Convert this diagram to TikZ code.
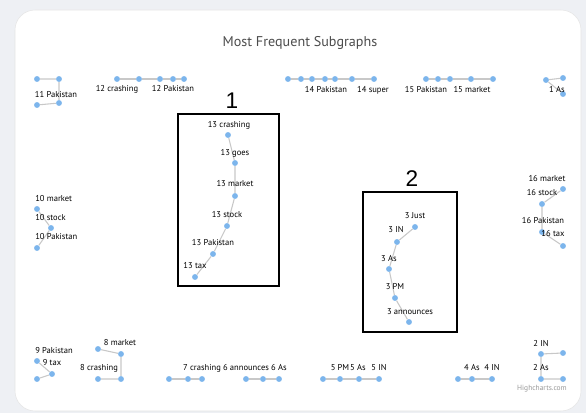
\documentclass[tikz,border=0pt]{standalone}
\usepackage{fontspec}
\setmainfont{PT Sans}
\newfontfamily\digitfont{Liberation Sans}
\usetikzlibrary{shadows}
\definecolor{hcblue}{HTML}{7CB5EC}
\definecolor{hcgray}{HTML}{C8C8C8}
\definecolor{pagegray}{HTML}{EEF0F4}
\begin{document}
\begin{tikzpicture}[x=0.75pt, y=-0.75pt,
  dot/.style={circle, fill=hcblue, inner sep=0pt, minimum size=4.4pt},
  link/.style={draw=hcgray, line width=0.8pt},
  word/.style={inner sep=0pt, font=\fontsize{6.4}{7}\selectfont, text=black},
  title/.style={inner sep=0pt, font=\fontsize{10.6}{12}\selectfont, text=black!70},
  frame/.style={draw=black, line width=1.7pt, fill=white,
    drop shadow={opacity=0.35, shadow xshift=1pt, shadow yshift=-1pt}},
  bignum/.style={inner sep=0pt, font=\digitfont\fontsize{17}{17}\selectfont}
]
\fill[pagegray] (0,0) rectangle (586,413);
\filldraw[fill=white, draw=gray!20, rounded corners=15pt] (15,10) rectangle (581,411);
\node[title] (head) at (300,43) {Most Frequent Subgraphs};

% boxes
\draw[frame] (178,114) rectangle (279,286);
\node[bignum] (one) at (232,101) {1};
\draw[frame] (363,192) rectangle (457,332);
\node[bignum] (two) at (412,179) {2};

% 11
\node[dot] (a11) at (37,79) {};
\node[dot] (b11) at (59,79) {};
\node[dot] (c11) at (59,103) {};
\node[dot] (d11) at (37,105) {};
\draw[link] (a11) -- (b11) -- (c11) -- (d11);
\node[word] (t11) at (56,95) {11 Pakistan};

% 12
\node[dot] (a12) at (117,79) {};
\node[dot] (b12) at (139,79) {};
\node[dot] (c12) at (160,79) {};
\node[dot] (d12) at (173,79) {};
\node[dot] (e12) at (184,79) {};
\draw[link] (a12) -- (b12) -- (c12) -- (d12) -- (e12);
\node[word] (t12a) at (117,89) {12 crashing};
\node[word] (t12b) at (173,89) {12 Pakistan};

% 14
\node[dot] (a14) at (288,79) {};
\node[dot] (b14) at (301,79) {};
\node[dot] (c14) at (312,79) {};
\node[dot] (d14) at (325,79) {};
\node[dot] (e14) at (335,79) {};
\node[dot] (f14) at (352,79) {};
\node[dot] (g14) at (374,79) {};
\draw[link] (a14) -- (b14) -- (c14) -- (d14) -- (e14) -- (f14) -- (g14);
\node[word] (t14a) at (326,90) {14 Pakistan};
\node[word] (t14b) at (373,90) {14 super};

% 15
\node[dot] (a15) at (426,79) {};
\node[dot] (b15) at (438,79) {};
\node[dot] (c15) at (450,79) {};
\node[dot] (d15) at (471,79) {};
\node[dot] (e15) at (493,79) {};
\draw[link] (a15) -- (b15) -- (c15) -- (d15) -- (e15);
\node[word] (t15a) at (426,90) {15 Pakistan};
\node[word] (t15b) at (472,90) {15 market};

% 1
\node[dot] (a1) at (546,80) {};
\node[dot] (b1) at (563,78) {};
\node[dot] (c1) at (563,94) {};
\draw[link] (b1) -- (a1) -- (c1);
\node[word] (t1) at (557,90) {1 As};

% 10
\node[dot] (a10) at (37,209) {};
\node[dot] (b10) at (51,228) {};
\node[dot] (c10) at (37,248) {};
\draw[link] (a10) -- (b10) -- (c10);
\node[word, anchor=west] (t10a) at (35,199) {10 market};
\node[word, anchor=west] (t10b) at (35,218) {10 stock};
\node[word, anchor=west] (t10c) at (35,237) {10 Pakistan};

% 13
\node[dot] (a13) at (228,135) {};
\node[dot] (b13) at (235,163) {};
\node[dot] (c13) at (235,196) {};
\node[dot] (d13) at (227,226) {};
\node[dot] (e13) at (213,254) {};
\node[dot] (f13) at (195,277) {};
\draw[link] (a13) -- (b13) -- (c13) -- (d13) -- (e13) -- (f13);
\node[word] (t13a) at (229,125) {13 crashing};
\node[word] (t13b) at (235,153) {13 goes};
\node[word] (t13c) at (235,184) {13 market};
\node[word] (t13d) at (227,215) {13 stock};
\node[word] (t13e) at (213,243) {13 Pakistan};
\node[word] (t13f) at (195,266) {13 tax};

% 3
\node[dot] (a3) at (415,227) {};
\node[dot] (b3) at (397,242) {};
\node[dot] (c3) at (389,269) {};
\node[dot] (d3) at (395,298) {};
\node[dot] (e3) at (409,322) {};
\draw[link] (a3) -- (b3) -- (c3) -- (d3) -- (e3);
\node[word] (t3a) at (415,216) {3 Just};
\node[word] (t3b) at (396,230) {3 IN};
\node[word] (t3c) at (389,259) {3 As};
\node[word] (t3d) at (395,287) {3 PM};
\node[word] (t3e) at (410,312) {3 announces};

% 16
\node[dot] (a16) at (563,189) {};
\node[dot] (b16) at (542,204) {};
\node[dot] (c16) at (542,232) {};
\node[dot] (d16) at (563,246) {};
\draw[link] (a16) -- (b16) -- (c16) -- (d16);
\node[word] (t16a) at (547,179) {16 market};
\node[word] (t16b) at (542,193) {16 stock};
\node[word] (t16c) at (543,221) {16 Pakistan};
\node[word] (t16d) at (553,234) {16 tax};

% 9
\node[dot] (a9) at (37,361) {};
\node[dot] (b9) at (52,374) {};
\node[dot] (c9) at (37,379) {};
\draw[link] (a9) -- (b9) -- (c9);
\node[word] (t9a) at (54,351) {9 Pakistan};
\node[word] (t9b) at (52,363) {9 tax};

% 8
\node[dot] (a8) at (98,349) {};
\node[dot] (b8) at (121,354) {};
\node[dot] (c8) at (121,379) {};
\node[dot] (d8) at (98,379) {};
\draw[link] (a8) -- (b8) -- (c8) -- (d8);
\node[word] (t8a) at (120,343) {8 market};
\node[word] (t8b) at (99,368) {8 crashing};

% 7
\node[dot] (a7) at (169,379) {};
\node[dot] (b7) at (188,379) {};
\node[dot] (c7) at (202,379) {};
\draw[link] (a7) -- (b7) -- (c7);
\node[word] (t7) at (202,368) {7 crashing};

% 6
\node[dot] (a6) at (246,379) {};
\node[dot] (b6) at (263,379) {};
\node[dot] (c6) at (279,379) {};
\draw[link] (a6) -- (b6) -- (c6);
\node[word] (t6a) at (246,368) {6 announces};
\node[word] (t6b) at (279,368) {6 As};

% 5
\node[dot] (a5) at (323,379) {};
\node[dot] (b5) at (340,379) {};
\node[dot] (c5) at (359,379) {};
\node[dot] (d5) at (379,379) {};
\draw[link] (a5) -- (b5) -- (c5) -- (d5);
\node[word] (t5a) at (340,368) {5 PM};
\node[word] (t5b) at (358,368) {5 As};
\node[word] (t5c) at (379,368) {5 IN};

% 4
\node[dot] (a4) at (458,379) {};
\node[dot] (b4) at (472,379) {};
\node[dot] (c4) at (492,379) {};
\draw[link] (a4) -- (b4) -- (c4);
\node[word] (t4a) at (472,368) {4 As};
\node[word] (t4b) at (492,368) {4 IN};

% 2
\node[dot] (a2) at (563,353) {};
\node[dot] (b2) at (541,354) {};
\node[dot] (c2) at (541,379) {};
\node[dot] (d2) at (563,379) {};
\draw[link] (a2) -- (b2) -- (c2) -- (d2);
\node[word] (t2a) at (541,344) {2 IN};
\node[word] (t2b) at (541,368) {2 As};

\node[word, text=gray!80, font=\fontsize{5.6}{6}\selectfont] (credit) at (542,389) {Highcharts.com};
\end{tikzpicture}
\end{document}
